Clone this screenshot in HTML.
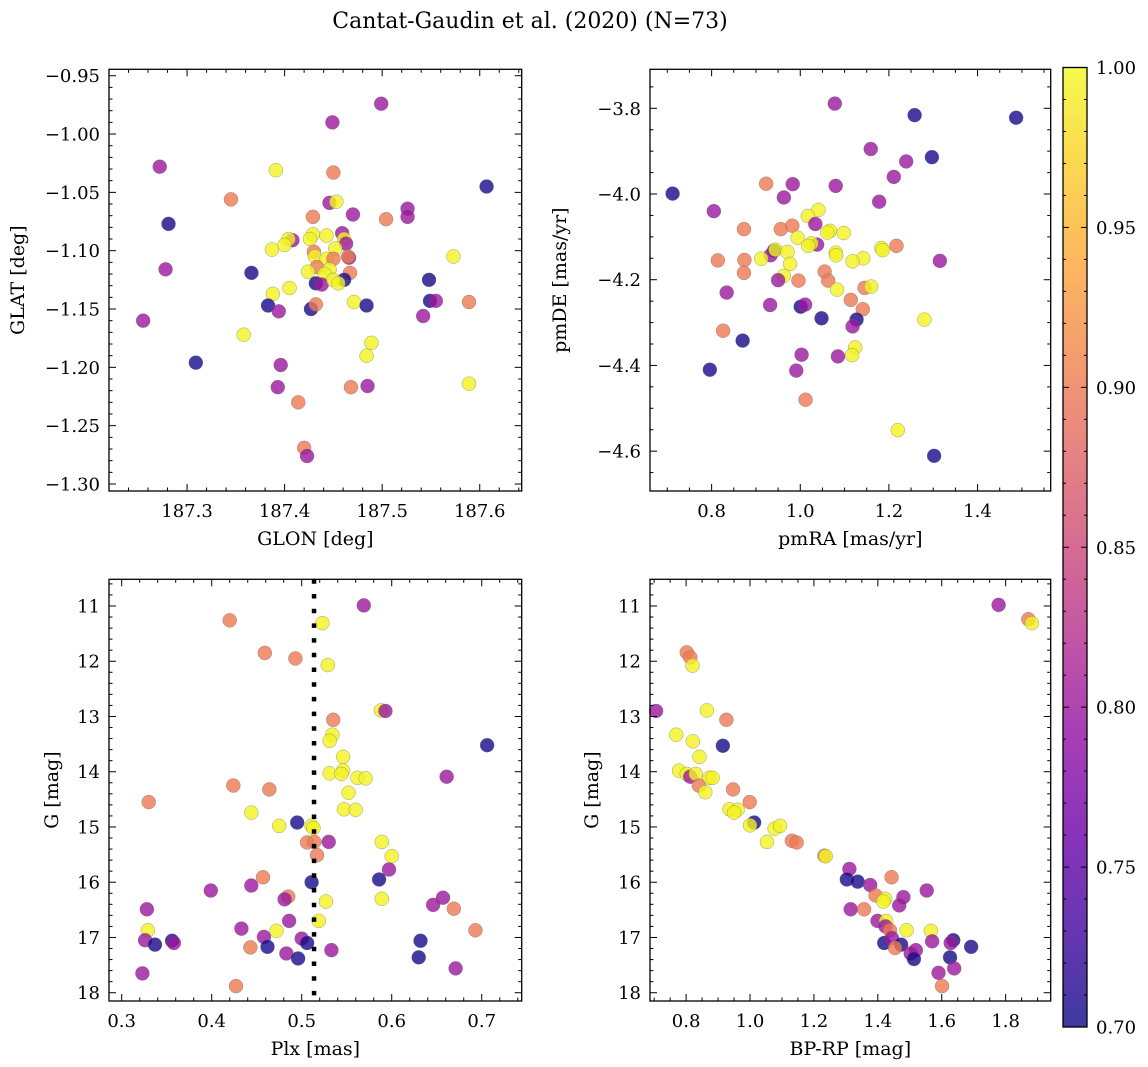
<!DOCTYPE html>
<html><head><meta charset="utf-8"><style>
html,body{margin:0;padding:0;background:#fff;}
svg{display:block;font-family:"DejaVu Serif","Liberation Serif",serif;}
</style></head><body>
<svg id="fig" width="1148" height="1067" viewBox="0 0 1148 1067" xmlns="http://www.w3.org/2000/svg">
<rect width="1148" height="1067" fill="#fff"/>
<text x="530" y="28" font-size="22" text-anchor="middle" fill="#000">Cantat-Gaudin et al. (2020) (N=73)</text>
<defs><linearGradient id="plasma" x1="0" y1="1" x2="0" y2="0">
<stop offset="0" stop-color="#0d0887"/><stop offset="0.1" stop-color="#41049d"/><stop offset="0.2" stop-color="#6a00a8"/><stop offset="0.3" stop-color="#8f0da4"/><stop offset="0.4" stop-color="#b12a90"/><stop offset="0.5" stop-color="#cc4778"/><stop offset="0.6" stop-color="#e16462"/><stop offset="0.7" stop-color="#f2844b"/><stop offset="0.8" stop-color="#fca636"/><stop offset="0.9" stop-color="#fcce25"/><stop offset="1" stop-color="#f0f921"/>
</linearGradient></defs>
</svg>
<script>
// Panel 1: GLON vs GLAT
const glon=[187.499,187.449,187.272,187.391,187.450,187.607,187.345,187.446,187.453,187.526,187.470,187.429,187.504,187.526,187.281,187.459,187.408,187.404,187.429,187.443,187.426,187.461,187.463,187.400,187.387,187.452,187.430,187.431,187.443,187.466,187.465,187.573,187.450,187.433,187.446,187.424,187.441,187.467,187.278,187.366,187.548,187.432,187.438,187.461,187.450,187.455,187.405,187.388,187.383,187.394,187.427,187.432,187.471,187.484,187.549,187.555,187.589,187.542,187.255,187.358,187.489,187.484,187.309,187.396,187.393,187.468,187.485,187.589,187.414,187.420,187.423];
const glat=[-0.974,-0.990,-1.028,-1.031,-1.033,-1.045,-1.056,-1.059,-1.058,-1.064,-1.069,-1.071,-1.073,-1.071,-1.077,-1.085,-1.091,-1.090,-1.086,-1.087,-1.090,-1.090,-1.094,-1.095,-1.099,-1.098,-1.101,-1.105,-1.107,-1.106,-1.105,-1.105,-1.107,-1.114,-1.116,-1.118,-1.120,-1.119,-1.116,-1.119,-1.125,-1.128,-1.129,-1.125,-1.125,-1.128,-1.132,-1.137,-1.147,-1.152,-1.150,-1.146,-1.144,-1.147,-1.143,-1.143,-1.144,-1.156,-1.160,-1.172,-1.179,-1.190,-1.196,-1.198,-1.217,-1.217,-1.216,-1.214,-1.230,-1.269,-1.276];
const prob1=[0.80,0.80,0.80,0.995,0.90,0.705,0.90,0.80,0.995,0.80,0.80,0.90,0.90,0.80,0.705,0.80,0.80,0.995,0.995,0.995,0.995,0.995,0.80,0.995,0.995,0.995,0.90,0.995,0.995,0.80,0.90,0.995,0.90,0.90,0.995,0.995,0.995,0.90,0.80,0.705,0.705,0.705,0.80,0.705,0.995,0.995,0.995,0.995,0.705,0.80,0.705,0.90,0.995,0.705,0.705,0.80,0.90,0.80,0.80,0.995,0.995,0.995,0.705,0.80,0.80,0.90,0.80,0.995,0.90,0.90,0.80];
// Panel 2: pmRA vs pmDE
const pmra=[1.078,1.258,1.487,1.159,1.297,1.239,1.211,0.923,0.983,1.080,0.712,0.963,1.178,0.805,1.041,1.017,1.034,0.873,0.956,0.982,1.067,1.061,1.098,0.994,1.038,1.025,1.018,1.217,1.183,1.186,0.941,0.933,0.944,0.971,1.080,1.081,0.814,0.874,0.912,1.142,1.118,1.315,0.977,0.873,1.055,0.963,0.950,0.996,1.063,1.083,1.145,1.160,0.834,1.114,0.932,1.001,1.011,1.141,1.048,1.127,1.118,1.280,0.826,0.870,1.124,1.003,1.085,1.117,0.796,0.991,1.012,1.220,1.302];
const pmde=[-3.789,-3.816,-3.822,-3.895,-3.914,-3.924,-3.960,-3.976,-3.977,-3.981,-3.999,-4.008,-4.018,-4.040,-4.037,-4.051,-4.070,-4.082,-4.082,-4.074,-4.086,-4.090,-4.091,-4.102,-4.118,-4.115,-4.121,-4.121,-4.126,-4.131,-4.132,-4.143,-4.130,-4.135,-4.137,-4.143,-4.155,-4.154,-4.151,-4.150,-4.157,-4.156,-4.163,-4.184,-4.181,-4.191,-4.201,-4.202,-4.202,-4.223,-4.219,-4.216,-4.230,-4.247,-4.259,-4.263,-4.258,-4.269,-4.290,-4.293,-4.309,-4.293,-4.319,-4.342,-4.358,-4.375,-4.379,-4.376,-4.410,-4.412,-4.480,-4.551,-4.611];
const prob2=[0.80,0.705,0.705,0.80,0.705,0.80,0.80,0.90,0.80,0.80,0.705,0.80,0.80,0.80,0.995,0.995,0.80,0.90,0.90,0.90,0.995,0.995,0.995,0.995,0.80,0.995,0.995,0.90,0.995,0.995,0.705,0.80,0.995,0.995,0.995,0.995,0.90,0.90,0.995,0.995,0.995,0.80,0.995,0.90,0.90,0.995,0.80,0.90,0.90,0.995,0.90,0.995,0.80,0.90,0.80,0.705,0.80,0.90,0.705,0.705,0.80,0.995,0.90,0.705,0.995,0.80,0.80,0.995,0.705,0.80,0.90,0.995,0.705];
// Panel 3: Plx vs G
const plx=[0.569,0.420,0.523,0.459,0.493,0.529,0.588,0.593,0.535,0.534,0.531,0.546,0.706,0.546,0.531,0.544,0.562,0.571,0.661,0.424,0.464,0.330,0.552,0.547,0.560,0.444,0.475,0.495,0.511,0.513,0.506,0.514,0.530,0.589,0.517,0.600,0.597,0.457,0.586,0.511,0.399,0.444,0.485,0.481,0.527,0.589,0.657,0.646,0.669,0.328,0.486,0.519,0.433,0.472,0.329,0.693,0.326,0.337,0.356,0.358,0.458,0.500,0.506,0.443,0.462,0.632,0.483,0.533,0.496,0.630,0.671,0.323,0.427];
const gmag3=[10.99,11.26,11.31,11.85,11.95,12.07,12.89,12.90,13.06,13.33,13.44,13.73,13.52,13.98,14.03,14.04,14.11,14.12,14.09,14.25,14.32,14.55,14.38,14.68,14.69,14.74,14.98,14.92,14.98,15.02,15.28,15.27,15.27,15.27,15.51,15.53,15.77,15.91,15.95,16.00,16.15,16.06,16.26,16.31,16.35,16.30,16.28,16.41,16.48,16.49,16.70,16.70,16.84,16.88,16.87,16.87,17.05,17.13,17.06,17.10,16.99,17.02,17.10,17.18,17.17,17.06,17.29,17.23,17.38,17.36,17.56,17.65,17.88];
const prob3=[0.80,0.90,0.995,0.90,0.90,0.995,0.995,0.80,0.90,0.995,0.995,0.995,0.705,0.995,0.995,0.995,0.995,0.995,0.80,0.90,0.90,0.90,0.995,0.995,0.995,0.995,0.995,0.705,0.995,0.995,0.90,0.90,0.80,0.995,0.90,0.995,0.80,0.90,0.705,0.705,0.80,0.80,0.90,0.80,0.995,0.995,0.80,0.80,0.90,0.80,0.80,0.995,0.80,0.995,0.995,0.90,0.80,0.705,0.705,0.80,0.80,0.80,0.705,0.90,0.705,0.705,0.80,0.80,0.705,0.705,0.80,0.80,0.90];
const plxRef=[0.5137];
// Panel 4: BP-RP vs G
const bprp=[1.778,1.871,1.882,0.802,0.813,0.820,0.706,0.865,0.926,0.769,0.821,0.915,0.842,0.778,0.802,0.813,0.830,0.873,0.883,0.840,0.860,0.947,0.999,0.936,0.961,0.950,1.013,1.000,1.077,1.094,1.053,1.131,1.146,1.233,1.237,1.311,1.303,1.337,1.376,1.443,1.553,1.393,1.423,1.417,1.480,1.467,1.315,1.357,1.399,1.426,1.424,1.438,1.490,1.566,1.570,1.420,1.444,1.473,1.454,1.636,1.628,1.692,1.503,1.519,1.513,1.626,1.639,1.590,1.601];
const gmag4=[10.98,11.24,11.31,11.84,11.93,12.08,12.90,12.89,13.06,13.33,13.45,13.53,13.73,13.98,14.04,14.09,14.04,14.11,14.11,14.25,14.37,14.32,14.55,14.68,14.69,14.74,14.92,14.97,15.03,14.98,15.27,15.25,15.28,15.52,15.53,15.76,15.95,15.99,16.05,15.91,16.15,16.24,16.30,16.35,16.27,16.42,16.49,16.49,16.70,16.70,16.80,16.87,16.87,16.88,17.07,17.10,17.01,17.13,17.19,17.05,17.10,17.17,17.29,17.23,17.39,17.36,17.56,17.64,17.88];
const prob4=[0.80,0.90,0.995,0.90,0.90,0.995,0.80,0.995,0.90,0.995,0.995,0.705,0.995,0.995,0.995,0.80,0.995,0.995,0.995,0.90,0.995,0.90,0.90,0.995,0.995,0.995,0.705,0.995,0.995,0.995,0.995,0.90,0.90,0.90,0.995,0.80,0.705,0.705,0.80,0.90,0.80,0.90,0.995,0.995,0.80,0.80,0.80,0.90,0.80,0.995,0.80,0.90,0.995,0.995,0.80,0.705,0.80,0.705,0.90,0.705,0.80,0.705,0.80,0.80,0.705,0.705,0.80,0.80,0.90];
// Colorbar
const cbTicks=[0.70,0.75,0.80,0.85,0.90,0.95,1.00];

const NS="http://www.w3.org/2000/svg";
const fig=document.getElementById('fig');
const plasmaStops=["#0d0887","#41049d","#6a00a8","#8f0da4","#b12a90","#cc4778","#e16462","#f2844b","#fca636","#fcce25","#f0f921"];
function hex(h){return [parseInt(h.substr(1,2),16),parseInt(h.substr(3,2),16),parseInt(h.substr(5,2),16)];}
function plasma(v){let t=(v-0.7)/0.3;t=Math.max(0,Math.min(1,t));const p=t*10;const i=Math.min(9,Math.floor(p));const f=p-i;const a=hex(plasmaStops[i]),b=hex(plasmaStops[i+1]);return 'rgb('+a.map((c,k)=>Math.round(c+(b[k]-c)*f)).join(',')+')';}
function el(tag,attrs,parent){const e=document.createElementNS(NS,tag);for(const k in attrs)e.setAttribute(k,attrs[k]);(parent||fig).appendChild(e);return e;}
function fmt(v,d){const s=Math.abs(v).toFixed(d);return (v<-1e-9?'\u2212':'')+s;}
const TICKFS=18, LABFS=19;

function panel(c){
  const g=el('g',{});
  
  
  const sx=v=>c.x0+(v-c.dx0)/(c.dx1-c.dx0)*(c.x1-c.x0);
  const sy=v=>c.y0+(v-c.dyT)/(c.dyB-c.dyT)*(c.y1-c.y0);
  const pg=el('g',{},g);
  
  
  for(let i=0;i<c.xs.length;i++){
    const p=el('circle',{cx:sx(c.xs[i]),cy:sy(c.ys[i]),r:7,fill:plasma(c.cs[i]),'fill-opacity':0.8,stroke:'#666','stroke-width':0.5,'stroke-opacity':0.6},pg);
    
    
  }
  if(c.vline){
    const l=el('line',{x1:sx(c.vline),x2:sx(c.vline),y1:c.y0,y2:c.y1,stroke:'#000','stroke-width':4.5,'stroke-dasharray':'4.5 10.2'},g);
    
    
  }
  const fr=el('rect',{x:c.x0,y:c.y0,width:c.x1-c.x0,height:c.y1-c.y0,fill:'none',stroke:'#000','stroke-width':1.3},g);
  
  
  const xmin=Math.ceil(c.dx0/c.xminor-1e-6),xmax=Math.floor(c.dx1/c.xminor+1e-6);
  for(let k=xmin;k<=xmax;k++){const v=k*c.xminor;const X=sx(v);const isMaj=c.xmaj.some(m=>Math.abs(m-v)<1e-6);const L=isMaj?7:3.5;
    el('line',{x1:X,x2:X,y1:c.y1,y2:c.y1-L,stroke:'#000','stroke-width':1},g);
    el('line',{x1:X,x2:X,y1:c.y0,y2:c.y0+L,stroke:'#000','stroke-width':1},g);}
  c.xmaj.forEach(v=>{const t=el('text',{x:sx(v),y:c.y1+26,'font-size':TICKFS,'text-anchor':'middle'},g);t.textContent=fmt(v,c.xd);
    
    });
  const ymin=Math.ceil(Math.min(c.dyT,c.dyB)/c.yminor-1e-6),ymax=Math.floor(Math.max(c.dyT,c.dyB)/c.yminor+1e-6);
  for(let k=ymin;k<=ymax;k++){const v=k*c.yminor;const Y=sy(v);const isMaj=c.ymaj.some(m=>Math.abs(m-v)<1e-6);const L=isMaj?7:3.5;
    el('line',{x1:c.x0,x2:c.x0+L,y1:Y,y2:Y,stroke:'#000','stroke-width':1},g);
    el('line',{x1:c.x1,x2:c.x1-L,y1:Y,y2:Y,stroke:'#000','stroke-width':1},g);}
  c.ymaj.forEach(v=>{const t=el('text',{x:c.x0-9,y:sy(v)+6.5,'font-size':TICKFS,'text-anchor':'end'},g);t.textContent=fmt(v,c.yd);
    
    });
  const xl=el('text',{x:(c.x0+c.x1)/2,y:c.y1+54,'font-size':LABFS,'text-anchor':'middle'},g);xl.textContent=c.xlabel;
  
  
  const cy=(c.y0+c.y1)/2;
  const yl=el('text',{x:c.ylx,y:cy,'font-size':LABFS,'text-anchor':'middle',transform:'rotate(-90 '+c.ylx+' '+cy+')'},g);yl.textContent=c.ylabel;
  
  
}

panel({name:'glon-glat-panel',x0:109,x1:521.7,y0:69.3,y1:491,dx0:187.220,dx1:187.643,dyT:-0.9445,dyB:-1.306,xs:glon,ys:glat,cs:prob1,
  xmaj:[187.3,187.4,187.5,187.6],xminor:0.02,xd:1,ymaj:[-0.95,-1.00,-1.05,-1.10,-1.15,-1.20,-1.25,-1.30],yminor:0.01,yd:2,xlabel:'GLON [deg]',ylabel:'GLAT [deg]',ylx:24});
panel({name:'pm-panel',x0:650,x1:1050.7,y0:69.3,y1:491,dx0:0.661,dx1:1.565,dyT:-3.709,dyB:-4.693,xs:pmra,ys:pmde,cs:prob2,
  xmaj:[0.8,1.0,1.2,1.4],xminor:0.05,xd:1,ymaj:[-3.8,-4.0,-4.2,-4.4,-4.6],yminor:0.05,yd:1,xlabel:'pmRA [mas/yr]',ylabel:'pmDE [mas/yr]',ylx:566});
panel({name:'plx-g-panel',x0:109,x1:521.7,y0:579.3,y1:1001,dx0:0.2859,dx1:0.7444,dyT:10.517,dyB:18.15,xs:plx,ys:gmag3,cs:prob3,vline:plxRef[0],
  xmaj:[0.3,0.4,0.5,0.6,0.7],xminor:0.02,xd:1,ymaj:[11,12,13,14,15,16,17,18],yminor:0.2,yd:0,xlabel:'Plx [mas]',ylabel:'G [mag]',ylx:58});
panel({name:'cmd-panel',x0:650,x1:1050.7,y0:579.3,y1:1001,dx0:0.687,dx1:1.941,dyT:10.517,dyB:18.15,xs:bprp,ys:gmag4,cs:prob4,
  xmaj:[0.8,1.0,1.2,1.4,1.6,1.8],xminor:0.05,xd:1,ymaj:[11,12,13,14,15,16,17,18],yminor:0.2,yd:0,xlabel:'BP-RP [mag]',ylabel:'G [mag]',ylx:598});

(function(){
  const x0=1063,x1=1087,yT=67.5,yB=1027;
  const cg=el('g',{});
  
  
  el('rect',{x:x0,y:yT,width:x1-x0,height:yB-yT,fill:'url(#plasma)','fill-opacity':0.8},cg);
  el('rect',{x:x0,y:yT,width:x1-x0,height:yB-yT,fill:'none',stroke:'#000','stroke-width':1.3},cg);
  const cy=v=>yB-(v-0.70)/0.30*(yB-yT);
  for(let k=70;k<=100;k++){const v=k/100;const Y=cy(v);const maj=(k%5===0);
    el('line',{x1:x1,x2:x1-(maj?6:3),y1:Y,y2:Y,stroke:'#000','stroke-width':1},cg);
    el('line',{x1:x0,x2:x0+(maj?6:3),y1:Y,y2:Y,stroke:'#000','stroke-width':1},cg);}
  cbTicks.forEach(v=>{const t=el('text',{x:x1+9,y:cy(v)+6.5,'font-size':TICKFS},cg);t.textContent=v.toFixed(2);
    
    });
})();
</script>
</body></html>
